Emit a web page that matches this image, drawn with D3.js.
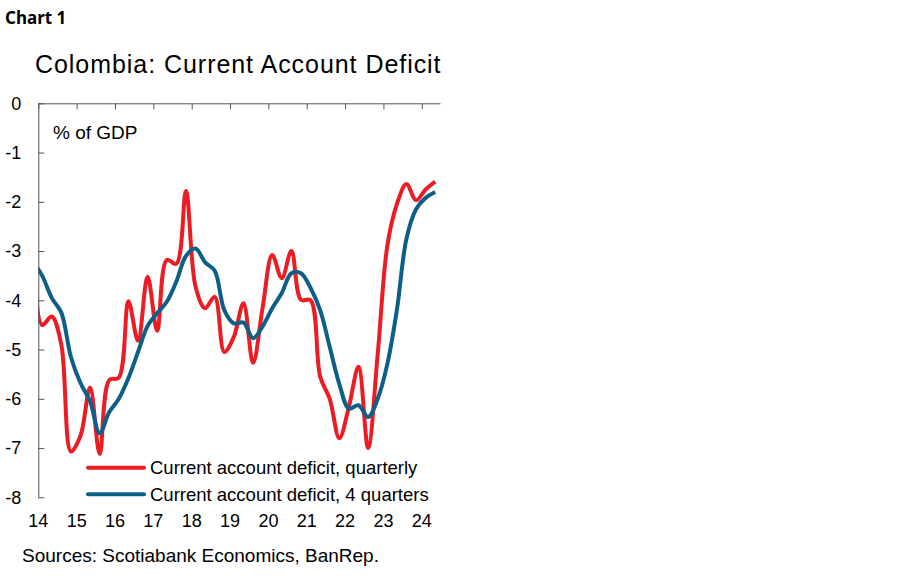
<!DOCTYPE html>
<html lang="en">

<head>
    <meta charset="utf-8">
    <title>Colombia: Current Account Deficit</title>
    <script src="https://d3js.org/d3.v7.min.js"></script>
    <style>
        body { margin: 0; background: #fff; }
        text { font-family: "Liberation Sans", Arial, sans-serif; fill: #000; }
    </style>
</head>

<body>
    <script type="text/javascript">
        var w = 900;
        var h = 579;

        // quarterly data, first point (2013Q4) sits just left of the axis and gets clipped
        var quarters = ["2013Q4",
            "2014Q1", "2014Q2", "2014Q3", "2014Q4", "2015Q1", "2015Q2", "2015Q3", "2015Q4",
            "2016Q1", "2016Q2", "2016Q3", "2016Q4", "2017Q1", "2017Q2", "2017Q3", "2017Q4",
            "2018Q1", "2018Q2", "2018Q3", "2018Q4", "2019Q1", "2019Q2", "2019Q3", "2019Q4",
            "2020Q1", "2020Q2", "2020Q3", "2020Q4", "2021Q1", "2021Q2", "2021Q3", "2021Q4",
            "2022Q1", "2022Q2", "2022Q3", "2022Q4", "2023Q1", "2023Q2", "2023Q3", "2023Q4",
            "2024Q1", "2024Q2"];
        var quarterly = [-1.2,
            -4.5, -4.33, -4.9, -7.07, -6.75, -5.77, -7.12, -5.62,
            -5.57, -4.02, -4.82, -3.52, -4.62, -3.18, -3.26, -1.78,
            -3.72, -4.16, -3.93, -5.05, -4.74, -4.06, -5.27, -4.15,
            -3.08, -3.55, -3.0, -3.99, -4.0, -5.55, -6.0, -6.8,
            -6.16, -5.35, -7.0, -5.1, -2.9, -2.05, -1.64, -1.97,
            -1.75, -1.59];
        var fourQuarters = [-3.2,
            -3.5, -3.95, -4.25, -5.15, -5.68, -6.05, -6.7, -6.27,
            -6.0, -5.58, -5.05, -4.52, -4.26, -4.03, -3.62, -3.1,
            -2.95, -3.23, -3.4, -4.2, -4.47, -4.45, -4.77, -4.53,
            -4.16, -3.85, -3.45, -3.45, -3.75, -4.2, -4.95, -5.7,
            -6.2, -6.13, -6.37, -6.0, -5.3, -4.2, -2.75, -2.15,
            -1.92, -1.8];
        var yearTicks = [2014, 2015, 2016, 2017, 2018, 2019, 2020, 2021, 2022, 2023, 2024];
        var yearLabels = ["14", "15", "16", "17", "18", "19", "20", "21", "22", "23", "24"];
        var yTicks = [0, -1, -2, -3, -4, -5, -6, -7, -8];

        var series = [
            { name: "Current account deficit, quarterly", values: quarterly, color: "#ec1c24" },
            { name: "Current account deficit, 4 quarters", values: fourQuarters, color: "#0d5f87" }
        ];

        // quarter label -> position in years (a bit after the quarter start)
        function qTime(q) {
            return +q.slice(0, 4) + (+q.slice(5) - 0.6) / 4;
        }

        var svg = d3.select("body")
            .append("svg").attr("width", w).attr("height", h);

        var x = d3.scaleLinear().domain([2014, 2024.475]).range([38.3, 440]);
        var y = d3.scaleLinear().domain([-8, 0]).range([497.3, 103.3]);

        svg.append("text").attr("x", 5).attr("y", 24)
            .style("font-family", "'Noto Sans', sans-serif")
            .style("font-weight", "bold").style("font-size", "17px")
            .text("Chart 1");

        svg.append("text").attr("x", 35).attr("y", 73)
            .style("font-size", "25px").style("letter-spacing", "0.95px")
            .text("Colombia: Current Account Deficit");

        // clip to the plot area
        svg.append("clipPath").attr("id", "plot")
            .append("rect").attr("x", x.range()[0]).attr("y", 90)
            .attr("width", x.range()[1] - x.range()[0]).attr("height", 420);

        var line = d3.line()
            .x((d, i) => x(qTime(quarters[i])))
            .y(d => y(d))
            .curve(d3.curveCatmullRom.alpha(0.5));

        svg.append("g").attr("clip-path", "url(#plot)")
            .selectAll("path")
            .data(series).enter().append("path")
            .attr("d", d => line(d.values))
            .attr("fill", "none")
            .attr("stroke", d => d.color)
            .attr("stroke-width", 4)
            .attr("stroke-linejoin", "round");

        // top axis at zero, ticks pointing down, no labels
        var xAxis = svg.append("g").attr("transform", "translate(0," + y(0) + ")")
            .call(d3.axisTop(x).tickValues(yearTicks).tickSize(-6).tickFormat("").tickSizeOuter(0));
        xAxis.select(".domain").attr("stroke", "#555");
        xAxis.selectAll(".tick line").attr("stroke", "#555");

        // year labels under the plot
        svg.append("g").selectAll("text")
            .data(yearTicks).enter().append("text")
            .attr("x", d => x(d)).attr("y", 527)
            .attr("text-anchor", "middle")
            .style("font-size", "18px")
            .text((d, i) => yearLabels[i]);

        var yAxis = svg.append("g").attr("transform", "translate(" + x.range()[0] + ",0)")
            .call(d3.axisLeft(y).tickValues(yTicks).tickSize(-6).tickSizeOuter(0).tickPadding(17)
                .tickFormat(d => String(d)));
        yAxis.select(".domain").attr("stroke", "#555");
        yAxis.selectAll(".tick line").attr("stroke", "#555");
        yAxis.selectAll(".tick text")
            .style("font-family", "'Liberation Sans', Arial, sans-serif")
            .style("font-size", "18px").attr("fill", "#000");

        svg.append("text").attr("x", 53).attr("y", 139)
            .style("font-size", "19px")
            .text("% of GDP");

        // legend
        var legend = svg.append("g").selectAll("g")
            .data(series).enter().append("g")
            .attr("transform", (d, i) => "translate(88," + (467.7 + i * 26.6) + ")");
        legend.append("line")
            .attr("x1", 0).attr("x2", 56)
            .attr("stroke", d => d.color).attr("stroke-width", 4).attr("stroke-linecap", "round");
        legend.append("text")
            .attr("x", 62).attr("y", 6.5)
            .style("font-size", "18.5px")
            .text(d => d.name);

        svg.append("text").attr("x", 22).attr("y", 562)
            .style("font-size", "19px")
            .text("Sources: Scotiabank Economics, BanRep.");
    </script>
</body>

</html>
